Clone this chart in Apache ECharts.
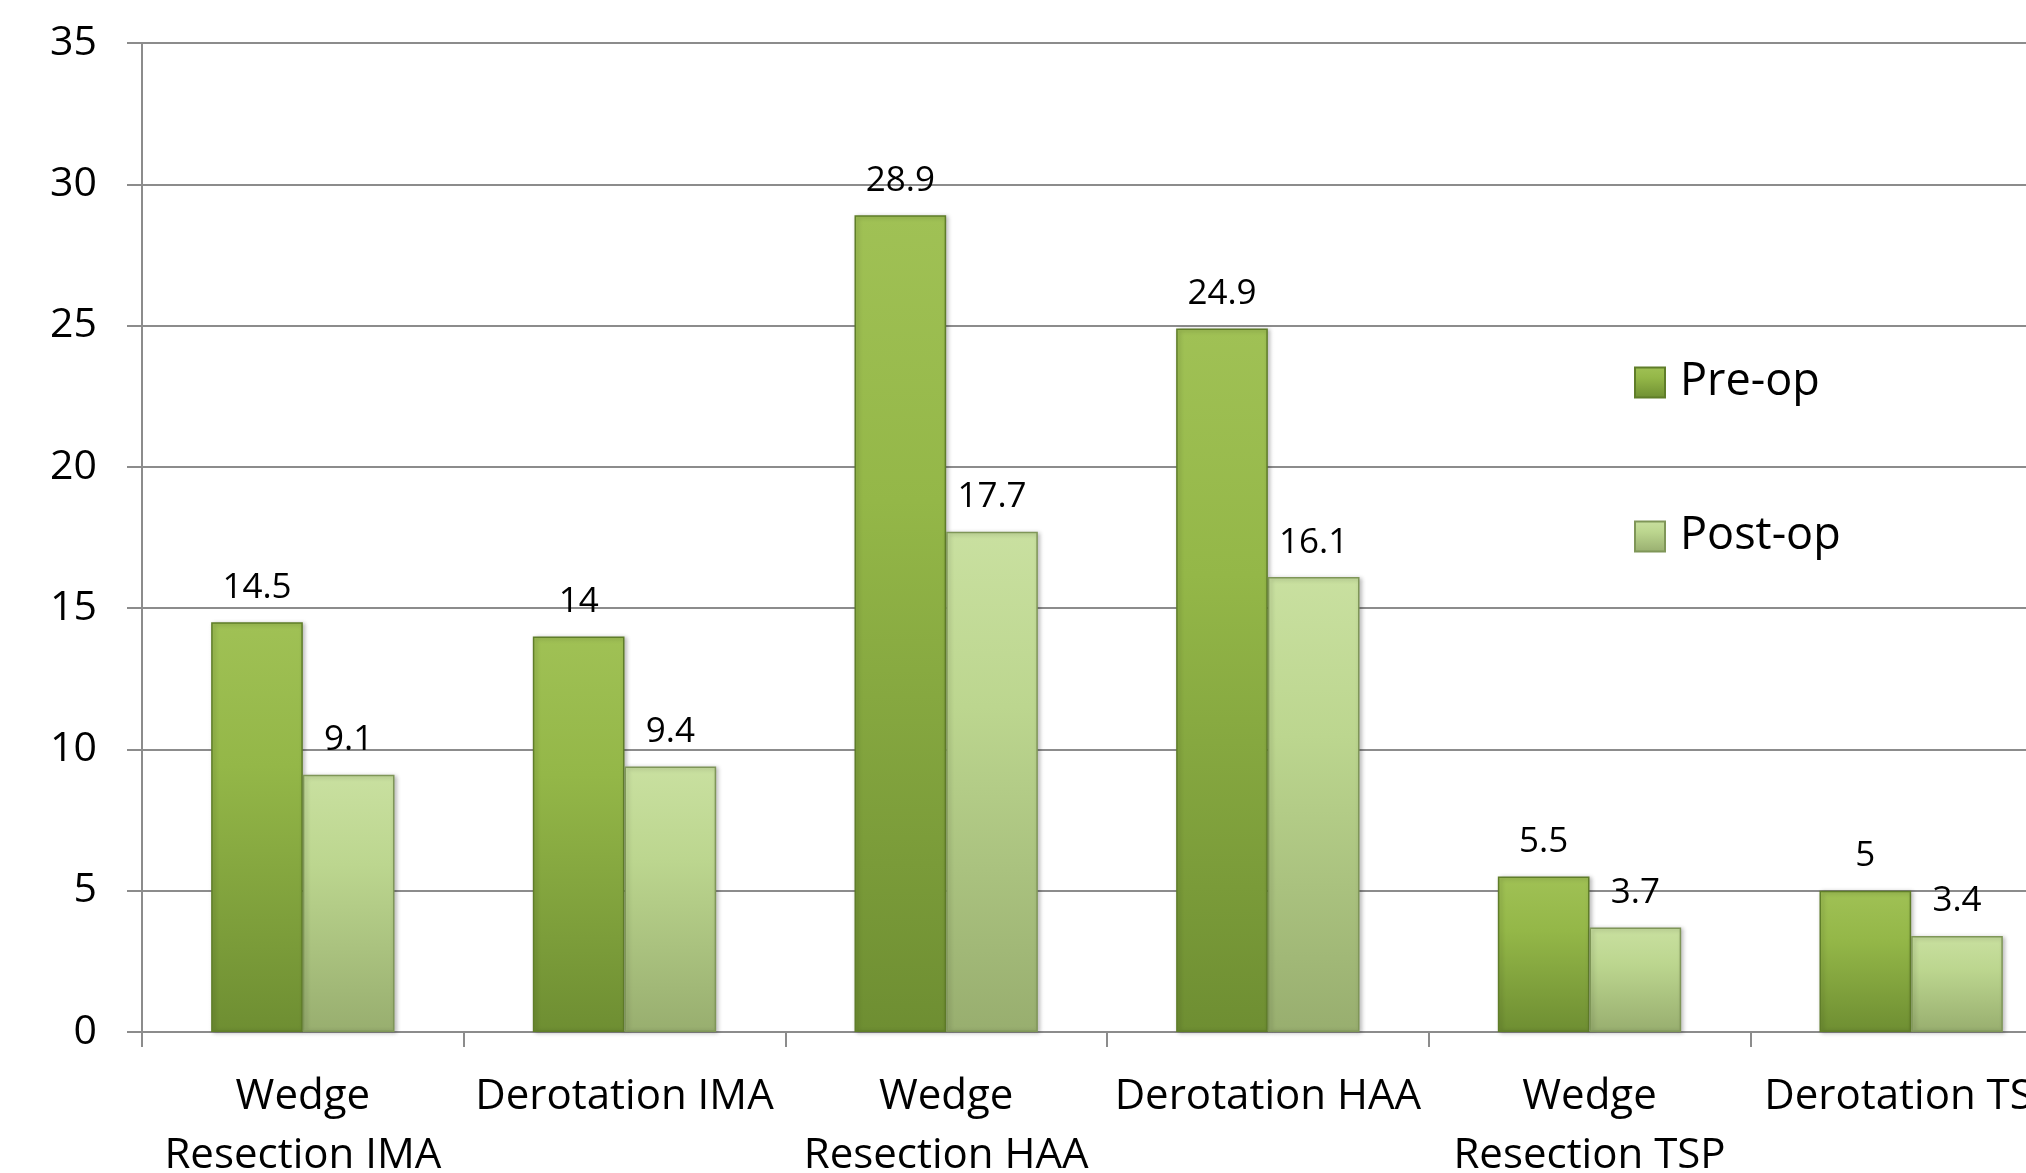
<!DOCTYPE html>
<html>
<head>
<meta charset="utf-8">
<script src="https://cdn.jsdelivr.net/npm/echarts@6/dist/echarts.min.js"></script>
<style>
  html, body { margin: 0; padding: 0; background: #ffffff; overflow: hidden; }
  #chart { width: 2026px; height: 1173px; }
</style>
</head>
<body>
<div id="chart"></div>
<script>
// Procedure groups shown along the x axis
const categories = [
  'Wedge\nResection IMA',
  'Derotation IMA',
  'Wedge\nResection HAA',
  'Derotation HAA',
  'Wedge\nResection TSP',
  'Derotation TSP'
];

// Mean angle values before and after surgery
const preOp = [14.5, 14, 28.9, 24.9, 5.5, 5];
const postOp = [9.1, 9.4, 17.7, 16.1, 3.7, 3.4];

// Value axis range
const yMin = 0;
const yMax = 35;
const yStep = 5;

const FONT = '"Open Sans", "Noto Sans", sans-serif';
const AXIS_GRAY = '#8c8c8c';

function vGrad(top, mid, bottom) {
  return new echarts.graphic.LinearGradient(0, 0, 0, 1, [
    { offset: 0, color: top },
    { offset: 0.35, color: mid },
    { offset: 1, color: bottom }
  ]);
}

const chart = echarts.init(document.getElementById('chart'), null, { renderer: 'canvas' });

chart.setOption({
  backgroundColor: '#ffffff',
  animation: false,
  textStyle: { fontFamily: FONT },
  grid: {
    left: 142, top: 43, width: 1930, height: 989,
    containLabel: false,
    outerBoundsMode: 'none'
  },
  legend: {
    orient: 'vertical',
    left: 1629,
    top: 355,
    itemWidth: 30,
    itemHeight: 30,
    itemGap: 109,
    icon: 'rect',
    textStyle: { fontFamily: FONT, fontSize: 45, color: '#000', padding: [0, 0, 0, 10] },
    data: ['Pre-op', 'Post-op']
  },
  xAxis: {
    type: 'category',
    data: categories,
    boundaryGap: true,
    axisLine: { show: true, lineStyle: { color: AXIS_GRAY, width: 2 } },
    axisTick: { show: true, length: 15, inside: false, lineStyle: { color: AXIS_GRAY, width: 2 } },
    axisLabel: {
      interval: 0,
      margin: 36,
      fontFamily: FONT,
      fontSize: 42,
      lineHeight: 59,
      color: '#000',
      align: 'center',
      hideOverlap: false
    },
    splitLine: { show: false }
  },
  yAxis: {
    type: 'value',
    min: yMin,
    max: yMax,
    interval: yStep,
    axisLine: { show: true, lineStyle: { color: AXIS_GRAY, width: 2 } },
    axisTick: { show: true, length: 15, inside: false, lineStyle: { color: AXIS_GRAY, width: 2 } },
    axisLabel: { margin: 45, fontFamily: FONT, fontSize: 41, color: '#000' },
    splitLine: { show: true, lineStyle: { color: AXIS_GRAY, width: 2 } }
  },
  series: [
    {
      name: 'Pre-op',
      type: 'bar',
      data: preOp,
      barGap: '0%',
      barCategoryGap: '43%',
      itemStyle: {
        color: vGrad('#a0c155', '#94b748', '#6e8e32'),
        borderColor: '#5f7d29',
        borderWidth: 1.5,
        shadowColor: 'rgba(0,0,0,0.25)',
        shadowBlur: 4,
        shadowOffsetX: 2,
        shadowOffsetY: 1
      },
      label: {
        show: true,
        position: 'top',
        distance: 17,
        fontFamily: FONT,
        fontSize: 35,
        color: '#000'
      }
    },
    {
      name: 'Post-op',
      type: 'bar',
      data: postOp,
      itemStyle: {
        color: vGrad('#c9e0a0', '#bcd68f', '#98ae6f'),
        borderColor: '#7f9658',
        borderWidth: 1.5,
        shadowColor: 'rgba(0,0,0,0.25)',
        shadowBlur: 4,
        shadowOffsetX: 2,
        shadowOffsetY: 1
      },
      label: {
        show: true,
        position: 'top',
        distance: 17,
        fontFamily: FONT,
        fontSize: 35,
        color: '#000'
      }
    }
  ]
});
</script>
</body>
</html>
